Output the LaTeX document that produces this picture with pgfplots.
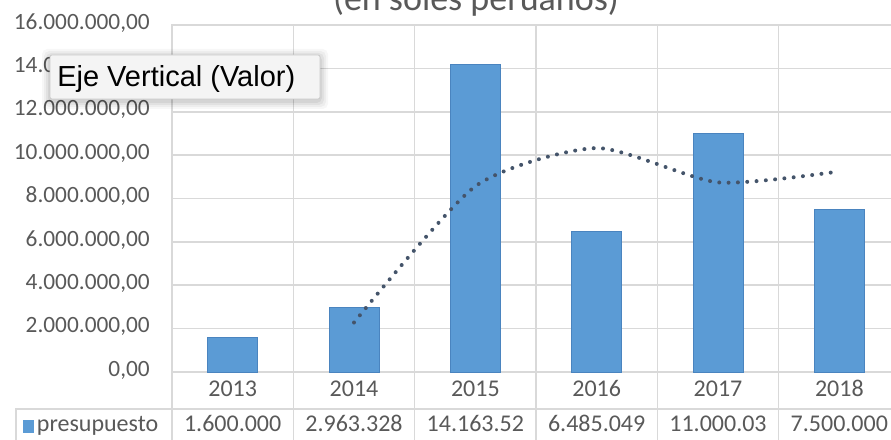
\documentclass[border=0pt]{standalone}
\usepackage{pgfplots}
\pgfplotsset{compat=1.18}
\usepackage{fontspec}
\setmainfont{Carlito}
\newfontfamily\tipfont{Liberation Sans}

\definecolor{barblue}{HTML}{5B9BD5}
\definecolor{baredge}{HTML}{4A84BF}
\definecolor{gridgray}{HTML}{D9D9D9}
\definecolor{labelgray}{HTML}{595959}
\definecolor{trendcol}{HTML}{44546A}
\definecolor{tipfill}{HTML}{F4F4F4}
\definecolor{tipedge}{HTML}{CACACA}

\begin{document}
\begin{tikzpicture}
\useasboundingbox (0,0) rectangle (668.25pt,329.25pt);
\clip (0,0) rectangle (668.25pt,329.25pt);

% chart title (second line)
\node[anchor=base, text=labelgray, inner sep=0pt, font=\fontsize{27}{32}\selectfont]
  at (357pt,321pt) {(en soles peruanos)};

\begin{axis}[
  at={(129pt,50.25pt)}, anchor=south west,
  scale only axis, width=546pt, height=260.25pt,
  xmin=-0.5, xmax=5.5, ymin=0, ymax=16000000,
  clip=false,
  axis line style={draw=gridgray, line width=1.2pt},
  tick style={draw=none},
  xtick={0,1,2,3,4,5},
  xticklabels={2013,2014,2015,2016,2017,2018},
  minor xtick={-0.5,0.5,1.5,2.5,3.5,4.5,5.5},
  xminorgrids, ymajorgrids,
  grid style={draw=gridgray, line width=1.2pt},
  minor grid style={draw=gridgray, line width=1.2pt},
  ytick={0,2000000,4000000,6000000,8000000,10000000,12000000,14000000,16000000},
  yticklabels={{0,00},{2.000.000,00},{4.000.000,00},{6.000.000,00},{8.000.000,00},
               {10.000.000,00},{12.000.000,00},{14.000.000,00},{16.000.000,00}},
  scaled y ticks=false,
  yticklabel style={anchor=east, inner sep=0pt, xshift=-16.5pt, yshift=1.5pt,
                    text=labelgray, font=\fontsize{17.5}{21}\selectfont},
  xticklabel style={anchor=base, inner sep=0pt, yshift=-18pt,
                    text=labelgray, font=\fontsize{18}{22}\selectfont},
]
% budget per year
\addplot[ybar, bar width=37.5pt, fill=barblue, draw=baredge, line width=0.6pt]
  coordinates {(0,1600000) (1,2963328) (2,14163520) (3,6485049) (4,11000030) (5,7500000)};

% two-period moving average
\addplot[smooth, tension=0.4, trendcol, line width=3pt, line cap=round,
         dash pattern=on 0pt off 7pt]
  coordinates {(1,2281664) (2,8563424) (3,10324285) (4,8742540) (5,9250015)};

% borders of the category row and data table
\pgfplotsinvokeforeach{-0.5,0.5,1.5,2.5,3.5,4.5,5.5}{
  \draw[gridgray, line width=1.2pt] (axis cs:#1,0) -- ++(0pt,-60pt);
}
\end{axis}

% data table row
\draw[gridgray, line width=1.2pt] (12pt,-5pt) -- (12pt,22.5pt) -- (680pt,22.5pt);
\fill[barblue] (17.25pt,4.5pt) rectangle (25.5pt,14.25pt);
\begin{scope}[every node/.style={anchor=base, inner sep=0pt, text=labelgray,
                                 font=\fontsize{18}{22}\selectfont}]
\node[anchor=base west] at (27.5pt,6pt) {presupuesto};
\node at (174.5pt,6pt) {1.600.000};
\node at (265.5pt,6pt) {2.963.328};
\node at (356.5pt,6pt) {14.163.52};
\node at (447.5pt,6pt) {6.485.049};
\node at (538.5pt,6pt) {11.000.03};
\node at (629.5pt,6pt) {7.500.000};
\end{scope}

% axis tooltip with soft shadow
\foreach \s/\o in {6pt/0.03,4.5pt/0.04,3pt/0.05,1.5pt/0.06}{
  \fill[black, opacity=\o, rounded corners=4pt]
    (37.5pt-\s,255pt-\s-1.5pt) rectangle (240pt+\s,288pt+\s-1.5pt);
}
\draw[fill=tipfill, draw=tipedge, line width=0.6pt, rounded corners=1.5pt]
  (37.5pt,255pt) rectangle (240pt,288pt);
\node[anchor=base west, inner sep=0pt, font=\tipfont\fontsize{21.75}{26}\selectfont]
  at (42.75pt,264pt) {Eje Vertical (Valor)};
\end{tikzpicture}
\end{document}
